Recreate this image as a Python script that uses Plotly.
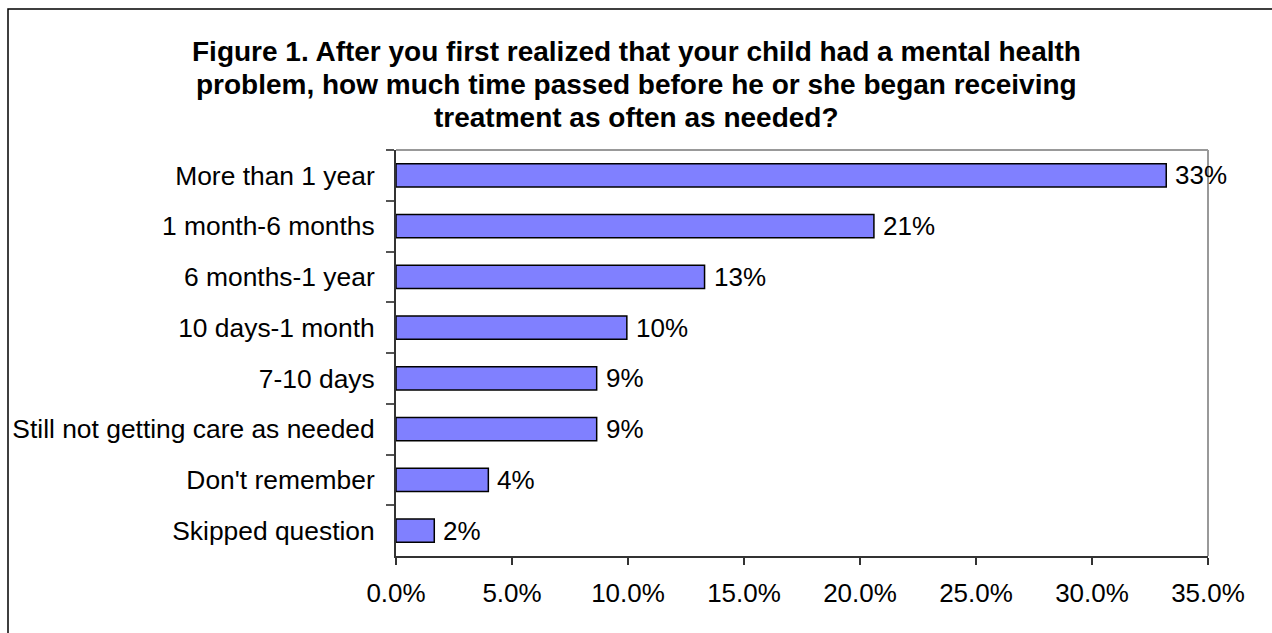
import plotly.graph_objects as go

categories = [
    "More than 1 year",
    "1 month-6 months",
    "6 months-1 year",
    "10 days-1 month",
    "7-10 days",
    "Still not getting care as needed",
    "Don't remember",
    "Skipped question",
]
values = [0.332, 0.206, 0.133, 0.0995, 0.0865, 0.0865, 0.0398, 0.0165]
labels = ["33%", "21%", "13%", "10%", "9%", "9%", "4%", "2%"]
x_ticks = [0, 0.05, 0.10, 0.15, 0.20, 0.25, 0.30, 0.35]
title_lines = [
    "Figure 1. After you first realized that your child had a mental health",
    "problem, how much time passed before he or she began receiving",
    "treatment as often as needed?",
]

FONT = "Liberation Sans, Arial, sans-serif"
W, H = 1272, 633
L, R, T, B = 396, 1208, 150, 556
pw, ph = R - L, B - T

def px_x(p):
    return (p - L) / pw

def px_y(p):
    return 1 - (p - T) / ph

fig = go.Figure()
fig.add_trace(go.Bar(
    x=values,
    y=categories,
    orientation="h",
    marker=dict(color="#8080FF", line=dict(color="#000000", width=1.5)),
    width=0.46,
    hoverinfo="skip",
))

annotations = []
for v, c, t in zip(values, categories, labels):
    annotations.append(dict(
        x=v, y=c, xref="x", yref="y", text=t, showarrow=False,
        xanchor="left", yanchor="middle", xshift=7,
        font=dict(family=FONT, size=26, color="#000000"),
    ))

title_y = [52, 85, 117]
for line, yy in zip(title_lines, title_y):
    annotations.append(dict(
        x=px_x(636), y=px_y(yy), xref="paper", yref="paper",
        text="<b>" + line + "</b>", showarrow=False,
        xanchor="center", yanchor="middle",
        font=dict(family=FONT, size=28, color="#000000"),
    ))

shapes = [
    # outer chart border (extends past the visible crop)
    dict(type="rect", xref="paper", yref="paper",
         x0=px_x(8), y0=px_y(720), x1=px_x(1320), y1=px_y(9),
         line=dict(color="#000000", width=1.5), fillcolor="rgba(0,0,0,0)", layer="below"),
    # plot area top/right border
    dict(type="line", xref="paper", yref="paper", x0=0, y0=1, x1=1, y1=1,
         line=dict(color="#999999", width=2)),
    dict(type="line", xref="paper", yref="paper", x0=1, y0=0, x1=1, y1=1,
         line=dict(color="#999999", width=2), layer="below"),
]

fig.update_layout(
    width=W, height=H,
    margin=dict(l=L, r=W - R, t=T, b=H - B, pad=0),
    paper_bgcolor="white", plot_bgcolor="white",
    showlegend=False,
    annotations=annotations,
    shapes=shapes,
    font=dict(family=FONT, size=26, color="#000000"),
)
fig.update_xaxes(
    range=[0, 0.35], tickvals=x_ticks, tickformat=".1%",
    showgrid=False, zeroline=False,
    showline=True, linecolor="#333333", linewidth=2,
    ticks="outside", ticklen=7, tickcolor="#333333", tickwidth=1.5,
    tickfont=dict(family=FONT, size=26, color="#000000"),
    ticklabelstandoff=6,
)
fig.update_yaxes(
    categoryorder="array", categoryarray=categories, autorange="reversed",
    showgrid=False, zeroline=False,
    showline=True, linecolor="#333333", linewidth=2,
    ticks="outside", ticklen=8, tickcolor="#555555", tickwidth=1.5,
    tickson="boundaries",
    tickfont=dict(family=FONT, size=26.4, color="#000000"),
    ticklabelstandoff=14,
)

fig.write_html(
    "out.html",
    config={"displayModeBar": False},
    post_script="document.body.style.margin='0';document.body.style.overflow='hidden';",
)
